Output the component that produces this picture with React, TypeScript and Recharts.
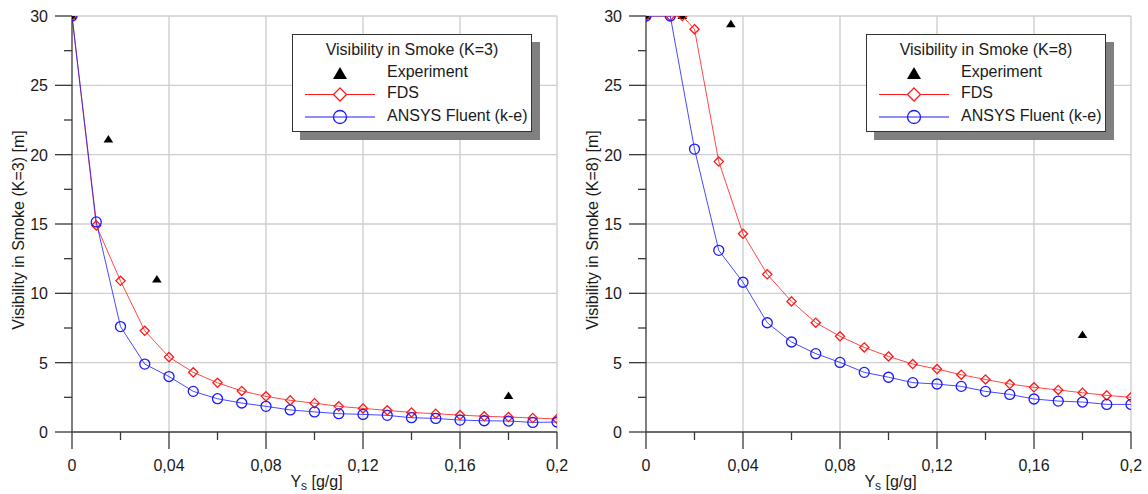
import React from 'react';
import { ComposedChart, Line, Scatter, XAxis, YAxis, CartesianGrid } from 'recharts';

// K=3 panel
const xs3 = [0, 0.01, 0.02, 0.03, 0.04, 0.05, 0.06, 0.07, 0.08, 0.09, 0.1, 0.11, 0.12, 0.13, 0.14, 0.15, 0.16, 0.17, 0.18, 0.19, 0.2];
const fds3 = [30, 14.9, 10.9, 7.3, 5.4, 4.3, 3.55, 2.96, 2.57, 2.28, 2.08, 1.85, 1.7, 1.56, 1.41, 1.32, 1.22, 1.13, 1.08, 1.01, 0.94];
const fluent3 = [30, 15.15, 7.6, 4.9, 4.0, 2.93, 2.4, 2.09, 1.85, 1.59, 1.45, 1.32, 1.27, 1.2, 1.03, 0.98, 0.86, 0.81, 0.79, 0.69, 0.72];
const expX3 = [0, 0.015, 0.035, 0.18];
const expY3 = [30, 21.1, 11.0, 2.6];

// K=8 panel
const xsFds8 = [0, 0.01, 0.015, 0.02, 0.03, 0.04, 0.05, 0.06, 0.07, 0.08, 0.09, 0.1, 0.11, 0.12, 0.13, 0.14, 0.15, 0.16, 0.17, 0.18, 0.19, 0.2];
const fds8 = [30, 30, 30, 29.05, 19.5, 14.3, 11.37, 9.42, 7.88, 6.9, 6.1, 5.45, 4.9, 4.54, 4.13, 3.79, 3.46, 3.22, 3.03, 2.83, 2.64, 2.5];
const xs8 = [0, 0.01, 0.02, 0.03, 0.04, 0.05, 0.06, 0.07, 0.08, 0.09, 0.1, 0.11, 0.12, 0.13, 0.14, 0.15, 0.16, 0.17, 0.18, 0.19, 0.2];
const fluent8 = [30, 30, 20.4, 13.1, 10.8, 7.88, 6.49, 5.65, 5.02, 4.3, 3.95, 3.56, 3.46, 3.29, 2.93, 2.71, 2.38, 2.23, 2.16, 1.99, 1.99];
const expX8 = [0, 0.015, 0.035, 0.18];
const expY8 = [30, 30, 29.4, 7.0];

// axes
const xTicks = [0, 0.02, 0.04, 0.06, 0.08, 0.1, 0.12, 0.14, 0.16, 0.18, 0.2];
const xGrid = [0.04, 0.08, 0.12, 0.16, 0.2];
const yTicks = [0, 2.5, 5, 7.5, 10, 12.5, 15, 17.5, 20, 22.5, 25, 27.5, 30];
const yGrid = [5, 10, 15, 20, 25, 30];

const RED = '#ff1a1a';
const BLUE = '#1a1aff';
const AXIS = '#3a3a3a';
const TEXT = '#1a1a1a';
const FONT = '"Liberation Sans", Arial, sans-serif';
const FS = 16;

const zip = (xs: number[], ys: number[]) => xs.map((x, i) => ({ x, y: ys[i] }));
const fmt = (v: number) => String(v).replace('.', ',');
const isMajorX = (v: number) => Math.round(v * 100) % 4 === 0;
const isMajorY = (v: number) => v % 5 === 0;

const XTick = (props: any) => {
  const { x, y, payload } = props;
  const major = isMajorX(payload.value);
  return (
    <g>
      <line x1={x} y1={y} x2={x} y2={y + (major ? 17 : 8)} stroke={AXIS} strokeWidth={1.3} />
      {major && (
        <text x={x} y={y + 39} textAnchor="middle" fontSize={FS} fill={TEXT} fontFamily={FONT}>
          {fmt(payload.value)}
        </text>
      )}
    </g>
  );
};

const YTick = (props: any) => {
  const { x, y, payload } = props;
  const major = isMajorY(payload.value);
  return (
    <g>
      <line x1={x} y1={y} x2={x - (major ? 17 : 8)} y2={y} stroke={AXIS} strokeWidth={1.3} />
      {major && (
        <text x={x - 24} y={y + 6} textAnchor="end" fontSize={FS} fill={TEXT} fontFamily={FONT}>
          {fmt(payload.value)}
        </text>
      )}
    </g>
  );
};

const Diamond = (props: any) => {
  const { cx, cy, index } = props;
  if (cx == null || cy == null) return <g key={index} />;
  const r = 4.6;
  return (
    <polygon
      key={index}
      points={`${cx},${cy - r} ${cx + r},${cy} ${cx},${cy + r} ${cx - r},${cy}`}
      fill="none"
      stroke={RED}
      strokeWidth={1.3}
    />
  );
};

const Ring = (props: any) => {
  const { cx, cy, index } = props;
  if (cx == null || cy == null) return <g key={index} />;
  return <circle key={index} cx={cx} cy={cy} r={5} fill="none" stroke={BLUE} strokeWidth={1.3} />;
};

const Triangle = (props: any) => {
  const { cx, cy } = props;
  if (cx == null || cy == null) return <g />;
  return <polygon points={`${cx},${cy - 4.5} ${cx + 4.8},${cy + 3} ${cx - 4.8},${cy + 3}`} fill="#000" />;
};

const Legend = ({ k }: { k: number }) => (
  <div
    style={{
      position: 'absolute',
      left: 292,
      top: 34,
      width: 238,
      height: 96,
      border: '1px solid #333',
      background: '#fff',
      boxShadow: '8px 8px 0 #808080',
      fontFamily: FONT,
      fontSize: FS,
      color: TEXT,
    }}
  >
    <div style={{ position: 'absolute', left: 0, width: 238, top: 6, textAlign: 'center' }}>
      Visibility in Smoke (K={k})
    </div>
    <svg width={238} height={96} style={{ position: 'absolute', left: 0, top: 0 }}>
      <polygon points="47,32 54,44 40,44" fill="#000" />
      <line x1={12} y1={59.5} x2={82} y2={59.5} stroke={RED} strokeWidth={1} />
      <polygon points="47,53 53.5,59.5 47,66 40.5,59.5" fill="#fff" stroke={RED} strokeWidth={1.3} />
      <line x1={12} y1={82} x2={82} y2={82} stroke={BLUE} strokeWidth={1} />
      <circle cx={47} cy={82} r={6.5} fill="none" stroke={BLUE} strokeWidth={1.3} />
    </svg>
    <div style={{ position: 'absolute', left: 94, top: 28 }}>Experiment</div>
    <div style={{ position: 'absolute', left: 94, top: 49 }}>FDS</div>
    <div style={{ position: 'absolute', left: 94, top: 72 }}>ANSYS Fluent (k-e)</div>
  </div>
);

const YTitle = ({ viewBox, k }: any) => {
  const cy = viewBox.y + viewBox.height / 2 + 6;
  return (
    <text
      x={18}
      y={cy}
      transform={`rotate(-90 18 ${cy})`}
      textAnchor="middle"
      dominantBaseline="central"
      fontSize={FS}
      fill={TEXT}
      fontFamily={FONT}
    >
      Visibility in Smoke (K={k}) [m]
    </text>
  );
};

const XTitle = ({ viewBox }: any) => {
  const cx = viewBox.x + viewBox.width / 2 + 2;
  return (
    <text x={cx} y={viewBox.y + 55} textAnchor="middle" fontSize={FS} fill={TEXT} fontFamily={FONT}>
      <tspan>Y</tspan>
      <tspan fontSize={12} dy={3}>s</tspan>
      <tspan dy={-3}> [g/g]</tspan>
    </text>
  );
};

interface PanelProps {
  k: number;
  fds: { x: number; y: number }[];
  fluent: { x: number; y: number }[];
  exp: { x: number; y: number }[];
}

const Panel = ({ k, fds, fluent, exp }: PanelProps) => (
  <div style={{ position: 'relative', width: 574, height: 494 }}>
    <ComposedChart width={574} height={494} margin={{ top: 16, right: 17, left: 0, bottom: 0 }}>
      <CartesianGrid
        horizontalValues={yGrid}
        verticalValues={xGrid}
        stroke="#cfcfcf"
        strokeWidth={1.4}
      />
      <XAxis
        dataKey="x"
        type="number"
        domain={[0, 0.2]}
        ticks={xTicks}
        interval={0}
        height={62}
        tickSize={0}
        tickMargin={0}
        tickLine={false}
        tick={<XTick />}
        axisLine={{ stroke: AXIS, strokeWidth: 1.3 }}
        allowDataOverflow
        label={<XTitle />}
      />
      <YAxis
        dataKey="y"
        type="number"
        domain={[0, 30]}
        ticks={yTicks}
        interval={0}
        width={72}
        tickSize={0}
        tickMargin={0}
        tickLine={false}
        tick={<YTick />}
        axisLine={{ stroke: AXIS, strokeWidth: 1.3 }}
        allowDataOverflow
        label={<YTitle k={k} />}
      />
      <Scatter data={exp} dataKey="y" shape={<Triangle />} isAnimationActive={false} />
      <Line
        data={fds}
        dataKey="y"
        stroke={RED}
        strokeWidth={1}
        strokeOpacity={0.8}
        dot={<Diamond />}
        activeDot={false}
        isAnimationActive={false}
      />
      <Line
        data={fluent}
        dataKey="y"
        stroke={BLUE}
        strokeWidth={1}
        strokeOpacity={0.8}
        dot={<Ring />}
        activeDot={false}
        isAnimationActive={false}
      />
    </ComposedChart>
    <Legend k={k} />
  </div>
);

export default function App() {
  return (
    <div style={{ position: 'absolute', left: 0, top: 0, width: 1148, height: 494, background: '#fff', display: 'flex' }}>
      <Panel k={3} fds={zip(xs3, fds3)} fluent={zip(xs3, fluent3)} exp={zip(expX3, expY3)} />
      <Panel k={8} fds={zip(xsFds8, fds8)} fluent={zip(xs8, fluent8)} exp={zip(expX8, expY8)} />
    </div>
  );
}
